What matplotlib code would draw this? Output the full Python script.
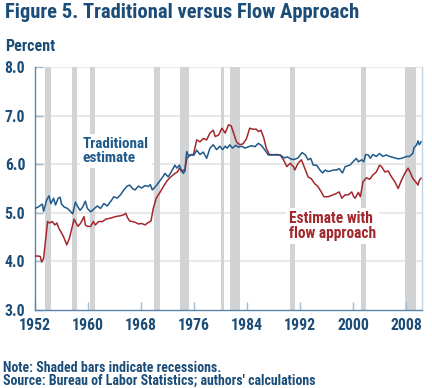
import numpy as np
import matplotlib
matplotlib.use('Agg')
import matplotlib.pyplot as plt
import matplotlib.font_manager as fm

# pick a narrow bold sans if one is installed, otherwise Liberation Sans
names = set(f.name for f in fm.fontManager.ttflist)
family = 'Liberation Sans'
for cand in ['Liberation Sans Narrow', 'Roboto Condensed', 'Open Sans Condensed',
             'Noto Sans Condensed', 'DejaVu Sans Condensed']:
    if cand in names:
        family = cand
        break
plt.rcParams['font.family'] = [family, 'DejaVu Sans']
plt.rcParams['font.weight'] = 'bold'

# traditional estimate (percent)
trad_years = [1952.0, 1952.5, 1953.1, 1953.3, 1953.75, 1954.1, 1954.4, 1954.8, 1955.1, 1955.5,
              1955.8, 1956.0, 1956.4, 1956.9, 1957.4, 1957.7, 1958.1, 1958.4, 1958.8, 1959.2,
              1959.6, 1959.9, 1960.4, 1960.9, 1961.4, 1961.9, 1962.4, 1962.9, 1963.4, 1963.9,
              1964.4, 1964.9, 1965.4, 1965.9, 1966.3, 1966.7, 1967.1, 1967.6, 1968.1, 1968.6,
              1969.1, 1969.4, 1969.7, 1970.3, 1970.9, 1971.3, 1971.6, 1972.1, 1972.6, 1973.1,
              1973.4, 1973.8, 1974.1, 1974.4, 1974.6, 1974.9, 1975.2, 1975.6, 1976.0, 1976.4,
              1976.9, 1977.4, 1977.9, 1978.4, 1978.9, 1979.4, 1979.9, 1980.3, 1980.7, 1981.0,
              1981.4, 1981.8, 1982.3, 1982.7, 1983.2, 1983.7, 1984.2, 1984.7, 1985.2, 1985.7,
              1986.2, 1986.7, 1987.2, 1987.7, 1988.2, 1988.7, 1989.1, 1989.6, 1990.1, 1990.7,
              1991.2, 1991.7, 1992.3, 1992.8, 1993.2, 1993.6, 1994.0, 1994.5, 1995.0, 1995.4,
              1995.8, 1996.2, 1996.6, 1997.0, 1997.5, 1997.9, 1998.4, 1998.8, 1999.5, 2000.0,
              2000.5, 2000.8, 2001.3, 2001.6, 2001.9, 2002.3, 2002.6, 2003.0, 2003.5, 2004.0,
              2004.5, 2005.0, 2005.5, 2006.0, 2006.8, 2007.3, 2008.1, 2008.5, 2009.0, 2009.2,
              2009.6, 2009.8, 2010.0, 2010.25]
trad_vals = [5.09, 5.12, 5.18, 5.03, 5.26, 5.35, 5.19, 5.30, 5.16, 5.30,
             5.32, 5.18, 5.12, 5.09, 5.02, 4.98, 5.22, 5.14, 5.05, 5.12,
             5.24, 5.09, 5.02, 5.08, 5.14, 5.09, 5.19, 5.14, 5.23, 5.33,
             5.30, 5.37, 5.47, 5.55, 5.57, 5.50, 5.47, 5.55, 5.51, 5.56,
             5.54, 5.58, 5.47, 5.56, 5.67, 5.74, 5.81, 5.74, 5.85, 5.98,
             5.92, 5.98, 5.87, 5.81, 5.87, 6.26, 6.16, 6.20, 6.19, 6.29,
             6.20, 6.25, 6.12, 6.33, 6.40, 6.30, 6.37, 6.30, 6.37, 6.33,
             6.40, 6.33, 6.39, 6.35, 6.37, 6.33, 6.36, 6.38, 6.36, 6.43,
             6.38, 6.29, 6.19, 6.20, 6.19, 6.19, 6.18, 6.13, 6.15, 6.10,
             6.10, 6.13, 6.24, 6.19, 6.09, 6.12, 5.98, 5.98, 5.88, 5.82,
             5.88, 5.85, 5.86, 5.88, 5.88, 5.91, 5.82, 5.95, 5.98, 6.05,
             6.12, 6.05, 6.09, 6.05, 6.20, 6.19, 6.12, 6.20, 6.16, 6.22,
             6.16, 6.19, 6.16, 6.14, 6.11, 6.12, 6.16, 6.16, 6.22, 6.34,
             6.40, 6.48, 6.40, 6.46]

# estimate with flow approach (percent)
flow_years = [1952.0, 1952.5, 1952.8, 1953.0, 1953.3, 1953.6, 1953.9, 1954.2, 1954.6, 1955.0,
              1955.3, 1955.6, 1955.9, 1956.3, 1956.6, 1956.8, 1957.0, 1957.2, 1957.5, 1957.9,
              1958.2, 1958.5, 1958.9, 1959.4, 1959.6, 1959.9, 1960.4, 1960.8, 1961.1, 1961.6,
              1962.2, 1962.7, 1963.4, 1964.1, 1964.9, 1965.4, 1965.7, 1966.0, 1966.3, 1966.7,
              1967.2, 1967.6, 1968.1, 1968.6, 1969.1, 1969.5, 1969.85, 1970.3, 1970.9, 1971.5,
              1972.0, 1972.5, 1973.1, 1973.5, 1973.8, 1974.1, 1974.4, 1974.6, 1974.9, 1975.4,
              1975.9, 1976.4, 1976.9, 1977.4, 1977.9, 1978.4, 1978.9, 1979.2, 1979.7, 1980.2,
              1980.7, 1981.2, 1981.6, 1981.9, 1982.4, 1982.9, 1983.4, 1983.9, 1984.4, 1984.9,
              1985.4, 1985.7, 1986.1, 1986.5, 1986.9, 1987.4, 1987.9, 1988.4, 1989.0, 1989.5,
              1990.0, 1990.5, 1991.0, 1991.2, 1991.7, 1992.2, 1992.7, 1993.2, 1993.7, 1994.2,
              1994.7, 1995.2, 1995.6, 1996.2, 1996.6, 1997.0, 1997.5, 1997.9, 1998.3, 1998.8,
              1999.3, 1999.8, 2000.1, 2000.3, 2000.8, 2001.1, 2001.5, 2002.0, 2002.5, 2003.0,
              2003.5, 2004.0, 2004.3, 2004.8, 2005.3, 2005.8, 2006.3, 2006.8, 2007.3, 2007.8,
              2008.3, 2008.6, 2009.0, 2009.6, 2009.8, 2010.0, 2010.25]
flow_vals = [4.11, 4.11, 4.10, 3.99, 4.06, 4.44, 4.82, 4.79, 4.82, 4.75,
             4.79, 4.68, 4.61, 4.51, 4.41, 4.34, 4.41, 4.48, 4.65, 4.87,
             4.79, 4.72, 4.79, 4.92, 4.75, 4.72, 4.72, 4.82, 4.75, 4.82,
             4.82, 4.87, 4.89, 4.92, 4.94, 4.96, 4.99, 4.89, 4.83, 4.82,
             4.80, 4.77, 4.78, 4.75, 4.80, 4.83, 5.09, 5.30, 5.43, 5.57,
             5.67, 5.74, 5.81, 5.84, 5.92, 5.85, 5.88, 5.85, 6.12, 6.19,
             6.19, 6.50, 6.46, 6.53, 6.50, 6.64, 6.70, 6.57, 6.60, 6.74,
             6.64, 6.81, 6.79, 6.67, 6.46, 6.40, 6.42, 6.52, 6.74, 6.72,
             6.72, 6.67, 6.70, 6.55, 6.33, 6.19, 6.19, 6.20, 6.19, 6.09,
             5.95, 6.02, 5.95, 5.88, 6.02, 6.09, 5.92, 5.74, 5.70, 5.60,
             5.54, 5.43, 5.33, 5.33, 5.35, 5.37, 5.40, 5.43, 5.30, 5.37,
             5.37, 5.43, 5.33, 5.30, 5.42, 5.33, 5.64, 5.72, 5.69, 5.78,
             5.84, 5.98, 5.95, 5.84, 5.86, 5.74, 5.64, 5.50, 5.67, 5.81,
             5.92, 5.84, 5.71, 5.61, 5.57, 5.67, 5.71]

# recessions (start, end)
rec_start = [1953.5, 1957.6, 1960.3, 1969.9, 1973.9, 1980.0, 1981.5, 1990.5, 2001.2, 2007.9]
rec_end = [1954.4, 1958.3, 1961.1, 1970.9, 1975.2, 1980.5, 1982.9, 1991.2, 2001.9, 2009.5]

yticks = [3.0, 4.0, 5.0, 6.0, 7.0, 8.0]
xticks = [1952, 1960, 1968, 1976, 1984, 1992, 2000, 2008]

navy = '#1b4d78'
blue = '#1f5a8a'
red = '#a3282d'

fig = plt.figure(figsize=(4.32, 3.88), dpi=100)
ax = fig.add_axes([35/432, 1-310/388, 387/432, 243/388])

for s, e in zip(rec_start, rec_end):
    ax.axvspan(s, e, color='#d2d3d5', lw=0, zorder=1)

for y in yticks[1:]:
    ax.axhline(y, color='#e8e8e8', lw=1.5, zorder=0.5)

ax.plot(flow_years, flow_vals, color=red, lw=1.1, zorder=3)
ax.plot(trad_years, trad_vals, color=blue, lw=1.1, zorder=3)

ax.set_xlim(1952, 2010.4)
ax.set_ylim(3, 8)
ax.set_yticks(yticks)
ax.set_yticklabels(['%.1f' % v for v in yticks])
ax.set_xticks(xticks)
ax.set_xticklabels([str(v) for v in xticks])

# tick label size chosen so that "1952" is about 32 px wide, as in the reference
probe = fig.text(0, 0, '1952', fontsize=10, fontweight='bold')
renderer = fig.canvas.get_renderer()
tick_size = 10 * 32 / probe.get_window_extent(renderer).width
probe.remove()

ax.tick_params(axis='both', direction='in', length=6, width=1, color='#9fbad2',
               labelcolor=navy, labelsize=tick_size)
ax.tick_params(axis='y', pad=7)
ax.tick_params(axis='x', pad=6)
for lab in ax.get_xticklabels() + ax.get_yticklabels():
    lab.set_fontweight('bold')

ax.spines['top'].set_visible(False)
ax.spines['left'].set_color('#5a85ab')
ax.spines['bottom'].set_color('#5a85ab')
ax.spines['right'].set_color('#c3d4e4')
for sp in ['left', 'bottom', 'right']:
    ax.spines[sp].set_linewidth(1)

t_trad = ax.text(1959.2, 6.56, 'Traditional\nestimate', color=blue, fontsize=10.5, fontweight='bold',
                 va='top', ha='left', linespacing=1.0, zorder=4,
                 bbox=dict(facecolor='white', edgecolor='none', pad=2))
t_flow = ax.text(1990.3, 5.03, 'Estimate with\nflow approach', color=red, fontsize=10.5, fontweight='bold',
                 va='top', ha='left', linespacing=1.0, zorder=4,
                 bbox=dict(facecolor='white', edgecolor='none', pad=2))

t_title = fig.text(5/432, 1-3/388, 'Figure 5. Traditional versus Flow Approach', color=navy,
                   fontsize=14, fontweight='bold', va='top', ha='left')
t_pct = fig.text(5/432, 1-39/388, 'Percent', color=navy, fontsize=10, fontweight='bold',
                 va='top', ha='left')
t_note = fig.text(3/432, 1-361/388, 'Note: Shaded bars indicate recessions.', color=navy,
                  fontsize=9, fontweight='bold', va='top', ha='left')
t_src = fig.text(3/432, 1-374/388, "Source: Bureau of Labor Statistics; authors' calculations",
                 color=navy, fontsize=9, fontweight='bold', va='top', ha='left')

# scale texts so they take the same width as in the reference
for t, w in [(t_title, 357), (t_pct, 50), (t_src, 314), (t_trad, 67), (t_flow, 88)]:
    cur = t.get_window_extent(renderer).width
    t.set_fontsize(t.get_fontsize() * w / cur)
t_note.set_fontsize(t_src.get_fontsize())

fig.savefig('out.png', dpi=100)
